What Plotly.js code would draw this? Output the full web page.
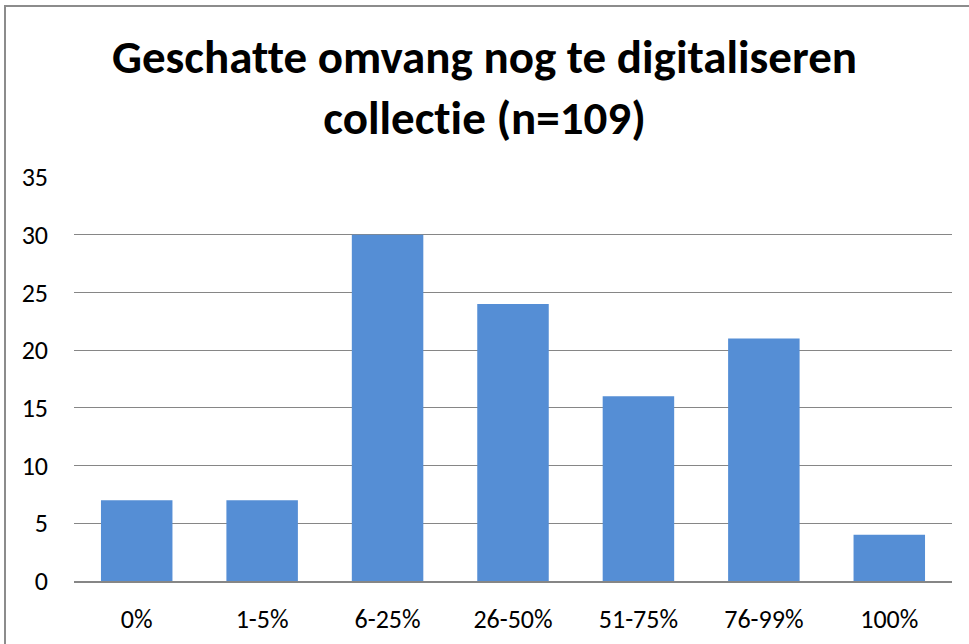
<!DOCTYPE html>
<html>
<head>
<meta charset="utf-8">
<script src="https://cdn.plot.ly/plotly-3.0.1.min.js"></script>
<style>
html,body{margin:0;padding:0;background:#fff;}
#frame{position:absolute;left:4px;top:5px;width:980px;height:660px;border-left:2px solid #8c8c8c;border-top:2px solid #8c8c8c;}
#chart{position:absolute;left:0;top:0;width:969px;height:644px;}
#chart text{font-variant-ligatures:none;font-feature-settings:"liga" 0;}
</style>
</head>
<body>
<div id="frame"></div>
<div id="chart"></div>
<script>
const categories = ["0%", "1-5%", "6-25%", "26-50%", "51-75%", "76-99%", "100%"];
const counts = [7, 7, 30, 24, 16, 21, 4];
const yTicks = [0, 5, 10, 15, 20, 25, 30, 35];

const FONT = "Carlito, Calibri, Lato, 'Noto Sans', sans-serif";

const trace = {
  type: "bar",
  x: categories,
  y: counts,
  marker: {color: "#558ed5"},
  hoverinfo: "x+y"
};

const layout = {
  width: 969,
  height: 644,
  paper_bgcolor: "rgba(0,0,0,0)",
  plot_bgcolor: "rgba(0,0,0,0)",
  margin: {l: 74, r: 17, t: 177, b: 63},
  bargap: 0.43,
  showlegend: false,
  title: {
    text: "<b>Geschatte omvang nog te digitaliseren<br>collectie (n=109)</b>",
    font: {family: FONT, size: 47, color: "#000"},
    x: 0.5, xanchor: "center",
    y: 0.887, yanchor: "middle",
    yref: "container"
  },
  xaxis: {
    type: "category",
    showgrid: false,
    showline: true,
    linecolor: "#868686",
    linewidth: 2,
    ticks: "",
    ticklabelstandoff: 14,
    tickfont: {family: FONT, size: 26, color: "#000"}
  },
  yaxis: {
    range: [0, 35],
    tickmode: "array",
    tickvals: yTicks,
    ticktext: yTicks.map(String),
    showgrid: true,
    gridcolor: "#868686",
    gridwidth: 1,
    zeroline: false,
    showline: false,
    ticks: "",
    ticklabelstandoff: 25,
    tickfont: {family: FONT, size: 26, color: "#000"}
  }
};

Plotly.newPlot("chart", [trace], layout, {displayModeBar: false});
</script>
</body>
</html>
